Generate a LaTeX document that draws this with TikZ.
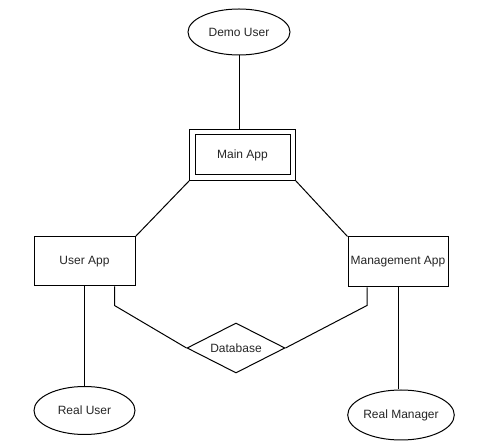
\documentclass[tikz,border=0pt]{standalone}
\usepackage{fontspec}
\setmainfont{Liberation Sans}
\usetikzlibrary{shapes.geometric,fit,calc}

\tikzset{
  entity/.style={draw, line width=0.75pt, inner sep=0pt, font=\fontsize{9}{11}\selectfont, text=black!85},
  actor/.style={entity, ellipse},
  rel/.style={entity, diamond, shape aspect=2},
  link/.style={line width=0.75pt}
}

\begin{document}
\begin{tikzpicture}[x=0.75pt, y=-0.75pt]
    \fill[white] (0,0) rectangle (486,448);
    \useasboundingbox (0,0) rectangle (486,448);

    \node[actor, minimum width=76.5pt, minimum height=34.5pt] (demo) at (239,32) {Demo User};
    \node[entity, minimum width=71.25pt, minimum height=30pt] (maininner) at (242.5,155) {Main App};
    \node[draw, line width=0.75pt, fit=(maininner), inner sep=3.4pt] (main) {};
    \node[entity, minimum width=75.75pt, minimum height=36.75pt] (uapp) at (84.5,261.5) {User App};
    \node[entity, minimum width=75pt, minimum height=37.5pt] (mapp) at (398,262) {Management App};
    \node[rel, minimum width=73.5pt, minimum height=37.5pt] (db) at (236,348) {Database};
    \node[actor, minimum width=75.75pt, minimum height=36pt] (ruser) at (84.5,410.5) {Real User};
    \node[actor, minimum width=75.75pt, minimum height=37.5pt] (rman) at (401,415) {Real Manager};

    \coordinate (ulink) at ($(uapp.south)+(30,0)$);
    \coordinate (mlink) at ($(mapp.south)+(-31,0)$);

    \draw[link] (demo.south) -- (demo.south |- main.north);
    \draw[link] (main.south west) -- (uapp.north east);
    \draw[link] (main.south east) -- (mapp.north west);
    \draw[link] (uapp.south) -- (ruser.north);
    \draw[link] (mapp.south) -- (mapp.south |- rman.north);
    \draw[link] (ulink) -- ++(0,19) -- (db.west);
    \draw[link] (mlink) -- ++(0,18) -- (db.east);
\end{tikzpicture}
\end{document}
